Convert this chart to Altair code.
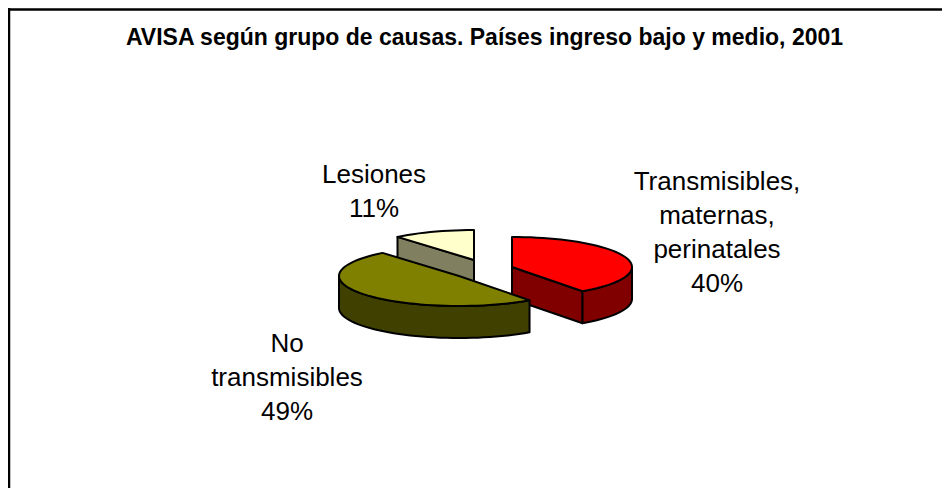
import math
import altair as alt
import pandas as pd

# Data
categories = ["Transmisibles, maternas, perinatales", "No transmisibles", "Lesiones"]
shares = [40, 49, 11]
label_lines = [
    ["Transmisibles,", "maternas,", "perinatales"],
    ["No", "transmisibles"],
    ["Lesiones"],
]
title_text = "AVISA según grupo de causas. Países ingreso bajo y medio, 2001"

# Layout of the pseudo-3D pie (page pixels)
RX, RY, DEPTH = 120, 30, 32
centres = [(512, 267), (459, 276), (474, 260)]
top_colors = ["#FF0000", "#808000", "#FFFFCC"]
side_colors = ["#800000", "#404000", "#808060"]
label_pos = [(717, 190), (287, 352), (374, 183)]
X0, X1, Y0, Y1 = 8, 942, 8, 488


def pt(c, deg, dz=0):
    t = math.radians(deg)
    return (c[0] + RX * math.sin(t), c[1] - RY * math.cos(t) + dz)


def arc(c, a, b, dz=0):
    n = max(2, int(abs(b - a) / 3) + 1)
    return [pt(c, a + (b - a) * i / (n - 1), dz) for i in range(n)]


def poly(points, fill, sw=2):
    pts = list(points) + [points[0]]
    df = pd.DataFrame({"x": [p[0] for p in pts], "y": [p[1] for p in pts], "o": range(len(pts))})
    return alt.Chart(df).mark_line(
        fill=fill, stroke="black", strokeWidth=sw, strokeJoin="round", clip=False
    ).encode(
        x=alt.X("x:Q", scale=xs, axis=None),
        y=alt.Y("y:Q", scale=ys, axis=None),
        order="o:Q",
    )


xs = alt.Scale(domain=[X0, X1], nice=False, zero=False)
ys = alt.Scale(domain=[Y0, Y1], nice=False, zero=False, reverse=True)

total = sum(shares)
spans = []
acc = 0
for s in shares:
    spans.append((acc * 360 / total, (acc + s) * 360 / total))
    acc += s


def top(i):
    a, b = spans[i]
    c = centres[i]
    return poly([c] + arc(c, a, b), top_colors[i])


def rim(i, a, b):
    c = centres[i]
    return poly(arc(c, a, b) + arc(c, b, a, DEPTH), side_colors[i])


def cut(i, deg):
    c = centres[i]
    p = pt(c, deg)
    return poly([c, p, (p[0], p[1] + DEPTH), (c[0], c[1] + DEPTH)], side_colors[i])


layers = [
    # Lesiones
    cut(2, spans[2][0]),
    top(2),
    # Transmisibles
    cut(0, spans[0][1]),
    rim(0, 90, spans[0][1]),
    top(0),
    # No transmisibles
    rim(1, spans[1][0], 270),
    top(1),
]

# Labels
lab_rows = []
for lines, s, (lx, ly) in zip(label_lines, shares, label_pos):
    lab_rows.append({"t": "\n".join(lines + [f"{s}%"]), "x": lx, "y": ly})
labels = alt.Chart(pd.DataFrame(lab_rows)).mark_text(
    font="Liberation Sans", fontSize=26, color="black", align="center",
    baseline="alphabetic", lineBreak="\n", lineHeight=34,
).encode(
    x=alt.X("x:Q", scale=xs, axis=None),
    y=alt.Y("y:Q", scale=ys, axis=None),
    text="t:N",
)

title = alt.Chart(pd.DataFrame({"t": [title_text], "x": [484.5], "y": [45]})).mark_text(
    font="Liberation Sans", fontSize=23, fontWeight="bold", color="black",
    align="center", baseline="alphabetic",
).encode(
    x=alt.X("x:Q", scale=xs, axis=None),
    y=alt.Y("y:Q", scale=ys, axis=None),
    text="t:N",
)

frame_top = alt.Chart(pd.DataFrame({"x": [X0], "x2": [X1], "y": [9.5]})).mark_rule(
    color="black", strokeWidth=2.5
).encode(
    x=alt.X("x:Q", scale=xs, axis=None), x2="x2:Q",
    y=alt.Y("y:Q", scale=ys, axis=None),
)
frame_left = alt.Chart(pd.DataFrame({"x": [9], "y": [Y0], "y2": [Y1]})).mark_rule(
    color="black", strokeWidth=2.5
).encode(
    x=alt.X("x:Q", scale=xs, axis=None),
    y=alt.Y("y:Q", scale=ys, axis=None), y2="y2:Q",
)

chart = alt.layer(frame_top, frame_left, *layers, labels, title).properties(
    width=X1 - X0, height=Y1 - Y0, padding=0,
    autosize=alt.AutoSizeParams(type="none"),
    background="white",
).configure_view(stroke=None)

chart.save("out.html", embed_options={"renderer": "svg", "actions": False})
